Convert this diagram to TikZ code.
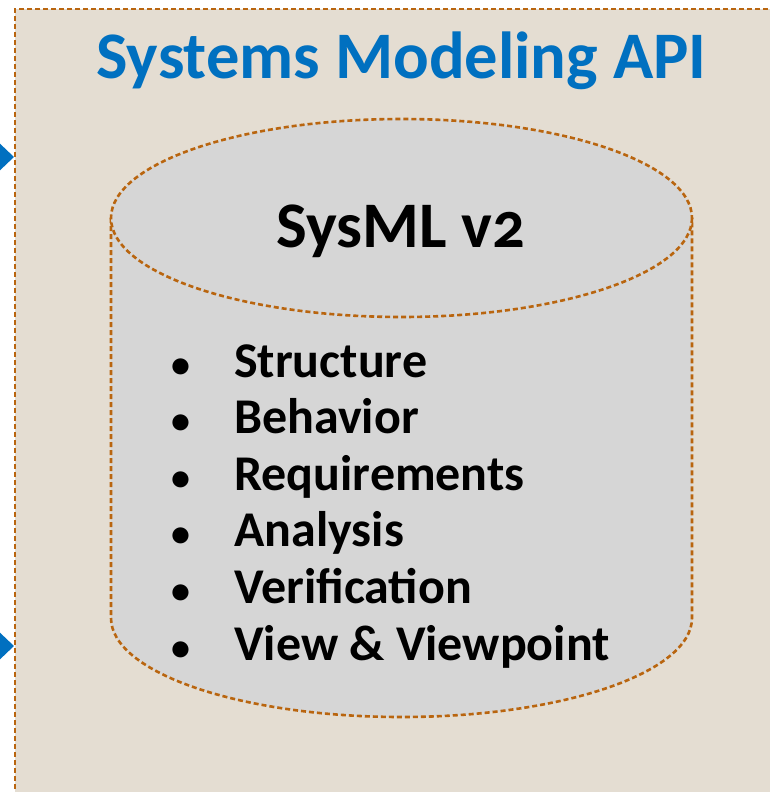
\documentclass[tikz,border=0pt]{standalone}
\usepackage{fontspec}
\setmainfont{Carlito}
\usetikzlibrary{arrows.meta}
\definecolor{apiblue}{HTML}{0070C0}
\definecolor{apibg}{HTML}{E4DDD2}
\definecolor{dbgray}{HTML}{D6D6D6}
\definecolor{edgebrown}{HTML}{B9650F}

\tikzset{
  brownline/.style={draw=edgebrown,line width=2.6pt,dash pattern=on 5pt off 3pt},
  feature/.style={anchor=base west,inner sep=0pt,font=\fontsize{50}{50}\selectfont\bfseries},
  bulletdot/.style={anchor=base,inner sep=0pt,font=\fontsize{38}{38}\selectfont\bfseries},
}

\begin{document}
\begin{tikzpicture}[x=1pt,y=-1pt]
\useasboundingbox (0,0) rectangle (770,792);
% API box
\fill[apibg] (14.5,9.5) rectangle (800,820);
\draw[brownline,line width=2pt] (800,9.5) -- (14.5,9.5) -- (14.5,820);
\node[anchor=base,inner sep=0pt,text=apiblue,font=\fontsize{66.5}{66.5}\selectfont\bfseries] (title) at (401.5,78) {Systems Modeling API};
% incoming arrows
\coordinate (in1) at (-60,157);
\coordinate (in2) at (-60,646);
\coordinate (api1) at (14,157);
\coordinate (api2) at (14,646);
\draw[apiblue,line width=2pt,-{Triangle[length=16pt,width=30pt]}] (in1) -- (api1);
\draw[apiblue,line width=2pt,-{Triangle[length=16pt,width=30pt]}] (in2) -- (api2);
% SysML v2 cylinder
\filldraw[fill=dbgray,brownline] (111,218) -- (111,618) arc[start angle=180,end angle=0,x radius=290.5,y radius=99] -- (692,218);
\filldraw[fill=dbgray,brownline] (401.5,218) ellipse[x radius=290.5,y radius=99];
\node[anchor=base,inner sep=0pt,font=\fontsize{65}{65}\selectfont\bfseries\addfontfeatures{Numbers=OldStyle}] (sysml) at (401,247) {SysML v2};
% features
\node[bulletdot] (b1) at (181,377) {\textbullet};
\node[feature] (f1) at (234,377) {Structure};
\node[bulletdot] (b2) at (181,433.6) {\textbullet};
\node[feature] (f2) at (234,433.6) {Behavior};
\node[bulletdot] (b3) at (181,490.2) {\textbullet};
\node[feature] (f3) at (234,490.2) {Requirements};
\node[bulletdot] (b4) at (181,546.8) {\textbullet};
\node[feature] (f4) at (234,546.8) {Analysis};
\node[bulletdot] (b5) at (181,603.4) {\textbullet};
\node[feature] (f5) at (234,603.4) {Verification};
\node[bulletdot] (b6) at (181,660) {\textbullet};
\node[feature] (f6) at (234,660) {View \& Viewpoint};
\end{tikzpicture}
\end{document}
